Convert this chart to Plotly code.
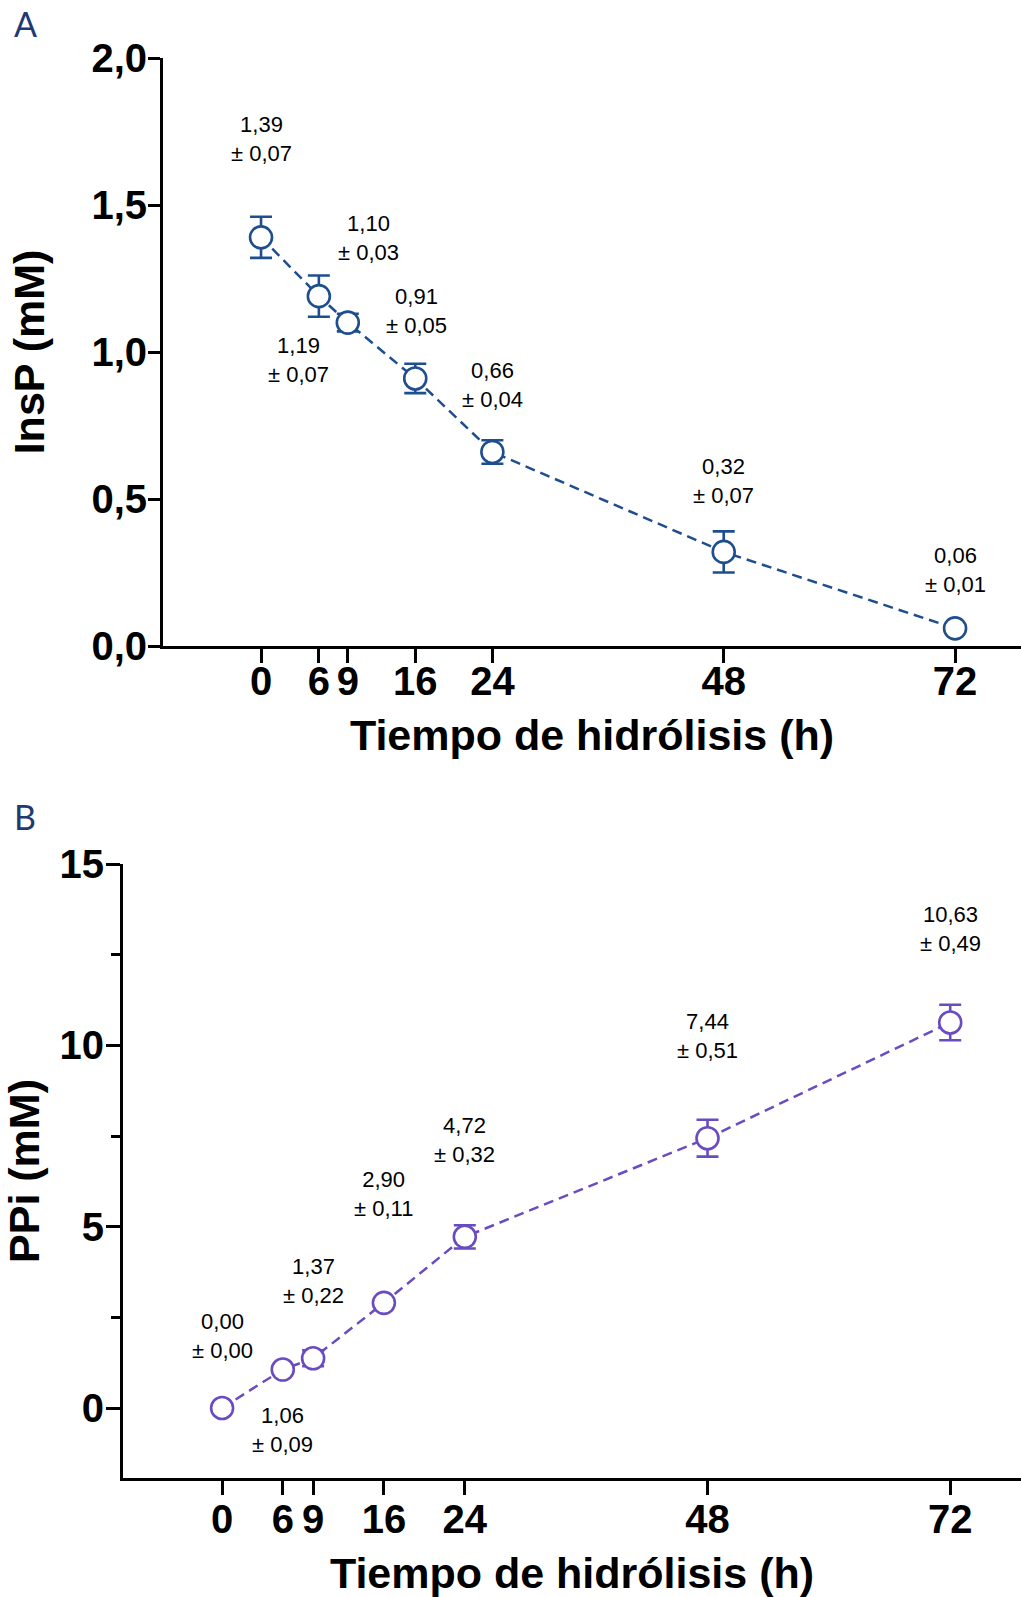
import plotly.graph_objects as go

# ---- data ----
hours = [0, 6, 9, 16, 24, 48, 72]
tick_labels = ["0", "6", "9", "16", "24", "48", "72"]

insp_mean = [1.39, 1.19, 1.10, 0.91, 0.66, 0.32, 0.06]
insp_sd = [0.07, 0.07, 0.03, 0.05, 0.04, 0.07, 0.01]
insp_label_x = [0, 3.9, 11.2, 16.1, 24, 48, 72]
insp_label_y = [1.725, 0.973, 1.388, 1.14, 0.888, 0.561, 0.259]

ppi_mean = [0.00, 1.06, 1.37, 2.90, 4.72, 7.44, 10.63]
ppi_sd = [0.00, 0.09, 0.22, 0.11, 0.32, 0.51, 0.49]
ppi_label_x = [0, 6, 9, 16, 24, 48, 72]
ppi_label_y = [1.98, -0.61, 3.50, 5.90, 7.39, 10.25, 13.2]

BLUE = "#1F4E8F"
PURPLE = "#6A4CC0"
FONT = "Arial"


def fmt(v):
    return f"{v:.2f}".replace(".", ",")


fig = go.Figure()

fig.add_trace(go.Scatter(
    x=hours, y=insp_mean, mode="lines+markers",
    line=dict(color=BLUE, width=2.5, dash="10px,6px"),
    marker=dict(symbol="circle", size=22, color="white", line=dict(color=BLUE, width=2.6)),
    error_y=dict(type="data", array=insp_sd, visible=True, color=BLUE, thickness=2.6, width=11),
    xaxis="x", yaxis="y", showlegend=False, cliponaxis=False,
))
fig.add_trace(go.Scatter(
    x=hours, y=ppi_mean, mode="lines+markers",
    line=dict(color=PURPLE, width=2.5, dash="10px,6px"),
    marker=dict(symbol="circle", size=22, color="white", line=dict(color=PURPLE, width=2.6)),
    error_y=dict(type="data", array=ppi_sd, visible=True, color=PURPLE, thickness=2.6, width=11),
    xaxis="x2", yaxis="y2", showlegend=False, cliponaxis=False,
))

annotations = []
for xv, yv, m, s in zip(insp_label_x, insp_label_y, insp_mean, insp_sd):
    annotations.append(dict(x=xv, y=yv, xref="x", yref="y", text=f"{fmt(m)}<br>± {fmt(s)}",
                            showarrow=False, font=dict(family=FONT, size=22, color="black"),
                            align="center", xanchor="center", yanchor="middle"))
for xv, yv, m, s in zip(ppi_label_x, ppi_label_y, ppi_mean, ppi_sd):
    annotations.append(dict(x=xv, y=yv, xref="x2", yref="y2", text=f"{fmt(m)}<br>± {fmt(s)}",
                            showarrow=False, font=dict(family=FONT, size=22, color="black"),
                            align="center", xanchor="center", yanchor="middle"))

annotations.append(dict(x=12 / 1021, y=1 - 24 / 1597, xref="paper", yref="paper", text="A",
                        showarrow=False, xanchor="left", yanchor="middle",
                        font=dict(family="Lato", size=34, color="#1F3A73")))
annotations.append(dict(x=12 / 1021, y=1 - 816 / 1597, xref="paper", yref="paper", text="B",
                        showarrow=False, xanchor="left", yanchor="middle",
                        font=dict(family="Lato", size=34, color="#1F3A73")))

axis_common = dict(showline=True, linecolor="black", linewidth=3, ticks="outside",
                   tickwidth=3, tickcolor="black", showgrid=False, zeroline=False,
                   automargin=False,
                   tickfont=dict(family=FONT, size=40, color="black", weight="bold"),
                   title_font=dict(family=FONT, size=43, color="black", weight="bold"))

fig.update_layout(
    width=1021, height=1597,
    margin=dict(l=0, r=0, t=0, b=0, pad=0),
    paper_bgcolor="white", plot_bgcolor="white",
    annotations=annotations,
    xaxis=dict(axis_common, domain=[163 / 1021, 1], range=[-10.17, 78.84],
               tickvals=hours, ticktext=tick_labels, ticklen=14, anchor="y",
               ticklabelstandoff=-16,
               title=dict(text="Tiempo de hidrólisis (h)", standoff=18)),
    yaxis=dict(axis_common, domain=[1 - 646 / 1597, 1 - 58 / 1597], range=[0, 2.0],
               tickvals=[0, 0.5, 1.0, 1.5, 2.0], ticktext=["0,0", "0,5", "1,0", "1,5", "2,0"],
               ticklen=12, anchor="x", ticklabelstandoff=-7,
               title=dict(text="InsP (mM)", standoff=34)),
    xaxis2=dict(axis_common, domain=[123 / 1021, 1], range=[-9.80, 79.0],
                tickvals=hours, ticktext=tick_labels, ticklen=14, anchor="y2",
                ticklabelstandoff=-10,
                title=dict(text="Tiempo de hidrólisis (h)", standoff=22)),
    yaxis2=dict(axis_common, domain=[1 - 1478 / 1597, 1 - 864 / 1597], range=[-1.93, 15],
                tickvals=[0, 5, 10, 15], ticktext=["0", "5", "10", "15"],
                ticklen=14, anchor="x2", ticklabelstandoff=-6,
                minor=dict(tickvals=[2.5, 7.5, 12.5], ticklen=9, tickwidth=3, tickcolor="black", ticks="outside"),
                title=dict(text="PPi (mM)", standoff=20)),
)

fig.write_html("out.html", config={"displayModeBar": False},
               post_script="document.body.style.margin='0px';")
